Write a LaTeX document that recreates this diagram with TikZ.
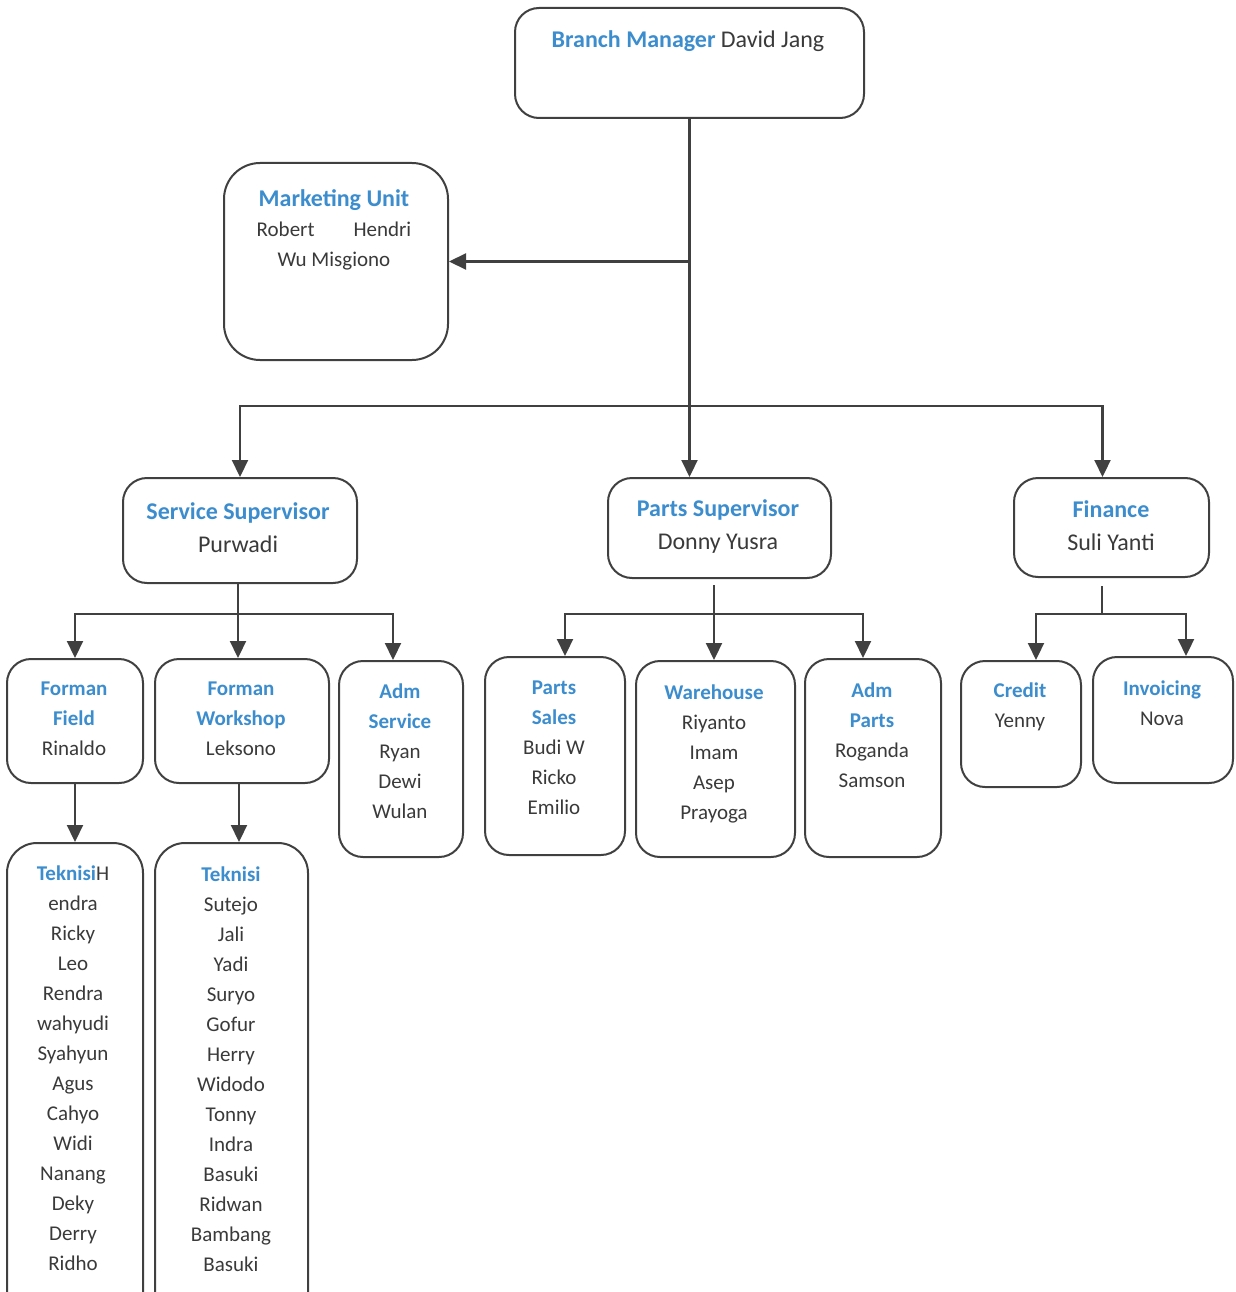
\documentclass[tikz,border=0pt]{standalone}
\usepackage{fontspec}
\setmainfont{Carlito}
\usetikzlibrary{arrows.meta}

\definecolor{headblue}{HTML}{3C8DCE}
\definecolor{textgray}{HTML}{3A3A3A}
\definecolor{linegray}{HTML}{404040}
\newcommand{\hd}[1]{\textcolor{headblue}{\textbf{#1}}}

\begin{document}
\begin{tikzpicture}[x=1pt,y=-1pt,>={Triangle[length=17pt,width=16pt]},
    unit/.style={draw=linegray,line width=2pt,rounded corners=24pt,fill=white,anchor=north west,inner sep=0pt},
    big/.style={align=center,text=textgray,font=\fontsize{24}{33}\selectfont},
    small/.style={align=center,text=textgray,font=\fontsize{21}{30}\selectfont},
    link/.style={draw=linegray,line width=2.2pt}]
    \useasboundingbox (0,0) rectangle (1235,1292);
    \clip (0,0) rectangle (1235,1292);

    % boxes
    \node[unit,minimum width=349,minimum height=110] (bm) at (514,7) {};
    \node[unit,rounded corners=36pt,minimum width=224,minimum height=197] (mkt) at (223,162) {};
    \node[unit,minimum width=234,minimum height=105] (ssup) at (122,477) {};
    \node[unit,minimum width=223,minimum height=100] (psup) at (607,477) {};
    \node[unit,minimum width=195,minimum height=99] (fin) at (1013,477) {};
    \node[unit,minimum width=136,minimum height=124] (ffield) at (6,658) {};
    \node[unit,minimum width=174,minimum height=124] (fwork) at (154,658) {};
    \node[unit,minimum width=124,minimum height=196] (admsvc) at (338,660) {};
    \node[unit,minimum width=140,minimum height=198] (psales) at (484,656) {};
    \node[unit,minimum width=159,minimum height=196] (wh) at (635,660) {};
    \node[unit,minimum width=136,minimum height=198] (admparts) at (804,658) {};
    \node[unit,minimum width=120,minimum height=126] (credit) at (960,660) {};
    \node[unit,minimum width=140,minimum height=126] (inv) at (1092,656) {};
    \node[unit,rounded corners=30pt,minimum width=136,minimum height=480] (tekh) at (6,842) {};
    \node[unit,rounded corners=30pt,minimum width=153,minimum height=480] (tekw) at (154,842) {};

    % texts
    \node[big] (bmt) at (688,41) {\hd{Branch Manager} David Jang};
    \node[small] (mktt) at (334,230) {{\fontsize{24}{33}\selectfont\hd{Marketing Unit}}\\Robert\hspace{39pt}Hendri\\Wu Misgiono};
    \node[big] (ssupt) at (238,528) {\hd{Service Supervisor}\\Purwadi};
    \node[big] (psupt) at (718,527) {\hd{Parts Supervisor}\\Donny Yusra};
    \node[big] (fint) at (1111,526) {\hd{Finance}\\Suli Yanti};
    \node[small] (ffieldt) at (74,719) {\hd{Forman}\\\hd{Field}\\Rinaldo};
    \node[small] (fworkt) at (241,719) {\hd{Forman}\\\hd{Workshop}\\Leksono};
    \node[small] (admsvct) at (400,751) {\hd{Adm}\\\hd{Service}\\Ryan\\Dewi\\Wulan};
    \node[small] (psalest) at (554,748) {\hd{Parts}\\\hd{Sales}\\Budi W\\Ricko\\Emilio};
    \node[small] (wht) at (714,754) {\hd{Warehouse}\\Riyanto\\Imam\\Asep\\Prayoga};
    \node[small] (admpartst) at (872,735) {\hd{Adm}\\\hd{Parts}\\Roganda\\Samson};
    \node[small] (creditt) at (1020,707) {\hd{Credit}\\Yenny};
    \node[small] (invt) at (1162,703) {\hd{Invoicing}\\Nova};
    \node[small] (tekht) at (73,1068) {\hd{Teknisi}H\\endra\\Ricky\\Leo\\Rendra\\wahyudi\\Syahyun\\Agus\\Cahyo\\Widi\\Nanang\\Deky\\Derry\\Ridho};
    \node[small] (tekwt) at (231,1069) {\hd{Teknisi}\\Sutejo\\Jali\\Yadi\\Suryo\\Gofur\\Herry\\Widodo\\Tonny\\Indra\\Basuki\\Ridwan\\Bambang\\Basuki};

    % connectors
    \coordinate (bus) at (688,406);
    \coordinate (sbus) at (238,614);
    \coordinate (pbus) at (714,614);
    \coordinate (fbus) at (1102,614);
    \draw[link,->] (bm.south) -- (bm.south |- psup.north);
    \draw[link,->] (bm.south |- mkt.east) -- (mkt.east);
    \draw[link,->] (bus) -| (ssup.north);
    \draw[link,->] (bus) -| ([xshift=-9pt]fin.north);
    \draw[link] (sbus |- ssup.south) -- (sbus);
    \draw[link,->] (sbus) -| (ffield.north);
    \draw[link,->] (sbus) -- (sbus |- fwork.north);
    \draw[link,->] (sbus) -| ([xshift=-8pt]admsvc.north);
    \draw[link,shorten <=6pt] (pbus |- psup.south) -- (pbus);
    \draw[link,->] (pbus) -| ([xshift=10pt]psales.north);
    \draw[link,->] (pbus) -- (pbus |- wh.north);
    \draw[link,->] (pbus) -| ([xshift=-10pt]admparts.north);
    \draw[link,shorten <=8pt] (fbus |- fin.south) -- (fbus);
    \draw[link,->] (fbus) -| ([xshift=15pt]credit.north);
    \draw[link,->] (fbus) -| ([xshift=23pt]inv.north);
    \draw[link,->] (ffield.south) -- (tekh.north);
    \draw[link,->] ([xshift=-3pt]fwork.south) -- ([xshift=-3pt]fwork.south |- tekw.north);
\end{tikzpicture}
\end{document}
